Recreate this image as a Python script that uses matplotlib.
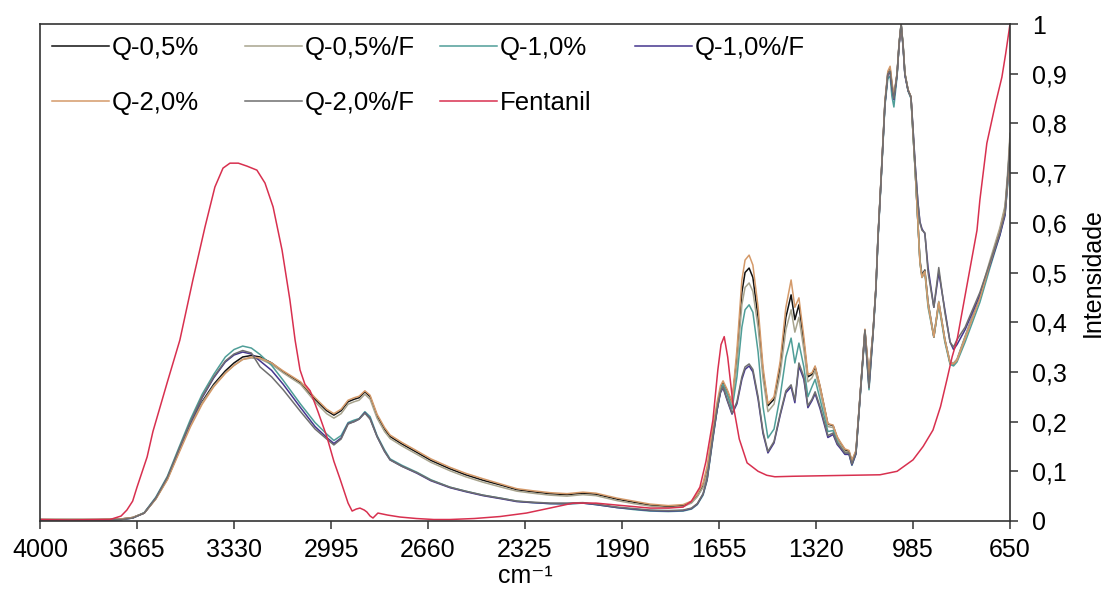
import matplotlib
matplotlib.use("Agg")
import matplotlib.pyplot as plt
from matplotlib.ticker import FixedLocator, FuncFormatter

plt.rcParams['font.family'] = ['Liberation Sans', 'DejaVu Sans']

# wavenumber grid shared by the six Q samples (cm-1)
wn_q = [4000, 3800, 3720, 3680, 3640, 3600, 3560, 3520, 3480, 3440,
        3400, 3360, 3330, 3300, 3270, 3240, 3200, 3160, 3100, 3050,
        3010, 2985, 2960, 2936, 2915, 2898, 2878, 2860, 2836, 2810,
        2791, 2750, 2698, 2650, 2584, 2530, 2470, 2400, 2353, 2300,
        2239, 2180, 2125, 2080, 2007, 1950, 1893, 1830, 1779, 1750,
        1730, 1710, 1696, 1676, 1662, 1650, 1641, 1627, 1610, 1593,
        1576, 1565, 1551, 1538, 1520, 1503, 1486, 1465, 1444, 1424,
        1406, 1393, 1379, 1362, 1348, 1334, 1323, 1306, 1279, 1261,
        1247, 1237, 1220, 1206, 1196, 1182, 1168, 1151, 1137, 1123,
        1113, 1106, 1096, 1082, 1072, 1064, 1058, 1051, 1040, 1033,
        1026, 1019, 1013, 1002, 992, 985, 978, 968, 961, 954,
        944, 933, 913, 896, 875, 857, 845, 833, 805, 754,
        719, 685, 667, 657, 650]

q05 = [0.003, 0.003, 0.004, 0.007, 0.016, 0.045, 0.085, 0.140, 0.195, 0.240,
       0.275, 0.302, 0.318, 0.330, 0.333, 0.330, 0.318, 0.300, 0.278, 0.245,
       0.222, 0.213, 0.222, 0.240, 0.245, 0.248, 0.260, 0.250, 0.212, 0.185,
       0.170, 0.155, 0.138, 0.122, 0.105, 0.093, 0.082, 0.071, 0.063, 0.059,
       0.055, 0.053, 0.056, 0.054, 0.044, 0.038, 0.032, 0.029, 0.031, 0.038,
       0.050, 0.070, 0.100, 0.180, 0.225, 0.265, 0.278, 0.262, 0.237, 0.330,
       0.460, 0.500, 0.509, 0.490, 0.410, 0.300, 0.232, 0.245, 0.310, 0.410,
       0.455, 0.405, 0.435, 0.360, 0.290, 0.295, 0.310, 0.270, 0.195, 0.192,
       0.168, 0.158, 0.143, 0.140, 0.120, 0.140, 0.250, 0.384, 0.290, 0.380,
       0.470, 0.570, 0.680, 0.840, 0.900, 0.910, 0.880, 0.852, 0.900, 0.960,
       1.000, 0.955, 0.900, 0.867, 0.853, 0.780, 0.712, 0.600, 0.525, 0.495,
       0.505, 0.440, 0.370, 0.440, 0.365, 0.318, 0.316, 0.324, 0.370, 0.450,
       0.520, 0.585, 0.630, 0.700, 0.770]

q05f = [0.003, 0.003, 0.004, 0.007, 0.016, 0.045, 0.085, 0.140, 0.193, 0.238,
        0.272, 0.298, 0.313, 0.325, 0.328, 0.326, 0.315, 0.298, 0.275, 0.240,
        0.216, 0.207, 0.216, 0.235, 0.240, 0.243, 0.255, 0.245, 0.207, 0.180,
        0.166, 0.151, 0.134, 0.118, 0.101, 0.089, 0.078, 0.067, 0.060, 0.056,
        0.052, 0.050, 0.053, 0.051, 0.041, 0.035, 0.030, 0.027, 0.029, 0.036,
        0.049, 0.068, 0.097, 0.176, 0.222, 0.262, 0.275, 0.258, 0.232, 0.315,
        0.435, 0.470, 0.479, 0.462, 0.390, 0.287, 0.220, 0.235, 0.295, 0.385,
        0.425, 0.380, 0.410, 0.345, 0.280, 0.288, 0.302, 0.262, 0.190, 0.188,
        0.165, 0.155, 0.140, 0.138, 0.118, 0.138, 0.248, 0.380, 0.285, 0.378,
        0.468, 0.568, 0.678, 0.838, 0.897, 0.907, 0.877, 0.850, 0.898, 0.958,
        0.998, 0.953, 0.898, 0.866, 0.852, 0.780, 0.710, 0.600, 0.520, 0.492,
        0.503, 0.440, 0.372, 0.442, 0.366, 0.320, 0.318, 0.326, 0.372, 0.455,
        0.525, 0.590, 0.635, 0.710, 0.780]

q10 = [0.002, 0.002, 0.003, 0.006, 0.017, 0.048, 0.090, 0.148, 0.205, 0.255,
       0.295, 0.330, 0.345, 0.352, 0.348, 0.335, 0.313, 0.283, 0.235, 0.198,
       0.175, 0.162, 0.172, 0.198, 0.203, 0.206, 0.220, 0.210, 0.172, 0.143,
       0.125, 0.112, 0.098, 0.083, 0.068, 0.060, 0.052, 0.045, 0.040, 0.037,
       0.035, 0.034, 0.036, 0.033, 0.027, 0.023, 0.020, 0.019, 0.020, 0.024,
       0.033, 0.052, 0.082, 0.165, 0.222, 0.262, 0.275, 0.255, 0.225, 0.290,
       0.390, 0.425, 0.435, 0.420, 0.340, 0.230, 0.167, 0.185, 0.250, 0.330,
       0.368, 0.318, 0.358, 0.310, 0.250, 0.270, 0.285, 0.245, 0.180, 0.182,
       0.160, 0.150, 0.135, 0.135, 0.112, 0.135, 0.245, 0.378, 0.264, 0.375,
       0.465, 0.565, 0.675, 0.835, 0.890, 0.895, 0.855, 0.833, 0.895, 0.960,
       1.000, 0.955, 0.900, 0.865, 0.850, 0.780, 0.710, 0.600, 0.520, 0.490,
       0.500, 0.430, 0.370, 0.435, 0.360, 0.315, 0.312, 0.320, 0.360, 0.440,
       0.510, 0.575, 0.620, 0.680, 0.750]

q10f = [0.002, 0.002, 0.003, 0.006, 0.016, 0.046, 0.087, 0.143, 0.198, 0.248,
        0.288, 0.320, 0.334, 0.340, 0.336, 0.322, 0.303, 0.275, 0.228, 0.190,
        0.168, 0.156, 0.167, 0.196, 0.200, 0.205, 0.218, 0.206, 0.170, 0.140,
        0.123, 0.110, 0.096, 0.081, 0.067, 0.059, 0.051, 0.044, 0.039, 0.037,
        0.035, 0.035, 0.036, 0.033, 0.027, 0.024, 0.021, 0.020, 0.021, 0.025,
        0.034, 0.054, 0.084, 0.168, 0.222, 0.258, 0.268, 0.243, 0.215, 0.236,
        0.285, 0.305, 0.312, 0.300, 0.245, 0.176, 0.137, 0.157, 0.212, 0.258,
        0.270, 0.238, 0.312, 0.285, 0.228, 0.242, 0.256, 0.226, 0.168, 0.174,
        0.154, 0.147, 0.134, 0.134, 0.113, 0.135, 0.248, 0.382, 0.270, 0.378,
        0.468, 0.568, 0.678, 0.838, 0.898, 0.903, 0.872, 0.848, 0.898, 0.958,
        0.998, 0.952, 0.897, 0.866, 0.853, 0.790, 0.722, 0.642, 0.602, 0.588,
        0.578, 0.510, 0.430, 0.500, 0.425, 0.360, 0.345, 0.355, 0.385, 0.455,
        0.515, 0.575, 0.615, 0.690, 0.750]

q20 = [0.003, 0.003, 0.004, 0.007, 0.016, 0.044, 0.083, 0.137, 0.190, 0.235,
       0.270, 0.297, 0.313, 0.325, 0.330, 0.328, 0.318, 0.302, 0.280, 0.248,
       0.225, 0.216, 0.225, 0.243, 0.248, 0.251, 0.262, 0.253, 0.215, 0.188,
       0.173, 0.158, 0.141, 0.125, 0.108, 0.096, 0.085, 0.073, 0.065, 0.061,
       0.057, 0.055, 0.058, 0.056, 0.046, 0.040, 0.034, 0.031, 0.033, 0.040,
       0.054, 0.077, 0.110, 0.190, 0.238, 0.272, 0.282, 0.265, 0.240, 0.345,
       0.485, 0.525, 0.535, 0.515, 0.430, 0.310, 0.236, 0.250, 0.320, 0.430,
       0.485, 0.430, 0.449, 0.370, 0.295, 0.298, 0.312, 0.272, 0.196, 0.193,
       0.170, 0.160, 0.145, 0.142, 0.122, 0.142, 0.252, 0.386, 0.292, 0.382,
       0.472, 0.572, 0.682, 0.845, 0.905, 0.915, 0.885, 0.856, 0.902, 0.962,
       1.000, 0.957, 0.902, 0.868, 0.854, 0.782, 0.713, 0.600, 0.520, 0.490,
       0.502, 0.435, 0.370, 0.440, 0.364, 0.318, 0.316, 0.323, 0.367, 0.448,
       0.518, 0.582, 0.625, 0.690, 0.760]

q20f = [0.002, 0.002, 0.003, 0.006, 0.016, 0.046, 0.088, 0.145, 0.200, 0.250,
        0.290, 0.322, 0.336, 0.343, 0.338, 0.310, 0.290, 0.264, 0.220, 0.185,
        0.165, 0.153, 0.165, 0.195, 0.200, 0.205, 0.217, 0.205, 0.170, 0.140,
        0.123, 0.110, 0.097, 0.082, 0.068, 0.060, 0.052, 0.045, 0.040, 0.038,
        0.036, 0.036, 0.037, 0.034, 0.028, 0.025, 0.022, 0.021, 0.022, 0.026,
        0.035, 0.055, 0.085, 0.170, 0.225, 0.260, 0.270, 0.245, 0.217, 0.240,
        0.290, 0.310, 0.316, 0.305, 0.250, 0.180, 0.140, 0.160, 0.215, 0.262,
        0.274, 0.243, 0.318, 0.290, 0.232, 0.245, 0.260, 0.230, 0.172, 0.177,
        0.157, 0.150, 0.137, 0.137, 0.115, 0.137, 0.250, 0.384, 0.268, 0.380,
        0.470, 0.570, 0.680, 0.840, 0.900, 0.905, 0.875, 0.850, 0.900, 0.960,
        1.000, 0.955, 0.900, 0.867, 0.853, 0.790, 0.720, 0.640, 0.600, 0.585,
        0.580, 0.500, 0.430, 0.510, 0.420, 0.360, 0.350, 0.365, 0.390, 0.460,
        0.520, 0.580, 0.620, 0.700, 0.760]

# pure fentanyl reference spectrum
wn_f = [4000, 3900, 3800, 3758, 3720, 3700, 3680, 3665, 3630, 3610,
        3560, 3517, 3472, 3430, 3396, 3368, 3344, 3315, 3285, 3251,
        3223, 3195, 3164, 3137, 3119, 3102, 3085, 3067, 3040, 3009,
        2985, 2964, 2936, 2922, 2908, 2895, 2880, 2871, 2860, 2850,
        2833, 2800, 2757, 2700, 2640, 2584, 2500, 2411, 2320, 2239,
        2159, 2080, 2007, 1950, 1893, 1830, 1779, 1750, 1721, 1700,
        1676, 1659, 1648, 1637, 1625, 1607, 1585, 1558, 1520, 1490,
        1462, 1400, 1300, 1200, 1099, 1040, 985, 950, 916, 890,
        868, 850, 833, 800, 764, 754, 730, 700, 678, 665,
        650]

fent = [0.003, 0.002, 0.003, 0.003, 0.010, 0.022, 0.040, 0.068, 0.129, 0.180,
        0.280, 0.364, 0.485, 0.592, 0.672, 0.710, 0.720, 0.720, 0.714, 0.706,
        0.680, 0.632, 0.545, 0.445, 0.364, 0.304, 0.275, 0.262, 0.220, 0.169,
        0.120, 0.085, 0.036, 0.020, 0.024, 0.026, 0.022, 0.018, 0.010, 0.006,
        0.016, 0.012, 0.008, 0.005, 0.003, 0.003, 0.005, 0.009, 0.016, 0.026,
        0.036, 0.036, 0.032, 0.029, 0.026, 0.026, 0.028, 0.040, 0.068, 0.120,
        0.203, 0.304, 0.355, 0.371, 0.330, 0.237, 0.165, 0.117, 0.100, 0.092,
        0.089, 0.090, 0.091, 0.092, 0.093, 0.100, 0.123, 0.150, 0.183, 0.230,
        0.284, 0.330, 0.364, 0.470, 0.585, 0.646, 0.760, 0.840, 0.893, 0.940,
        1.000]

labels = ["Q-0,5%", "Q-0,5%/F", "Q-1,0%", "Q-1,0%/F", "Q-2,0%", "Q-2,0%/F", "Fentanil"]
colors = ["#111111", "#a8a48e", "#4f9e98", "#45368e", "#d49a6a", "#6f6f6f", "#d8304f"]
series = [q05, q05f, q10, q10f, q20, q20f]

xticks = [4000, 3665, 3330, 2995, 2660, 2325, 1990, 1655, 1320, 985, 650]
yticks = [0, 0.1, 0.2, 0.3, 0.4, 0.5, 0.6, 0.7, 0.8, 0.9, 1.0]

fig = plt.figure(figsize=(11.06, 5.90), dpi=100)
ax = fig.add_axes([40 / 1106, 1 - 521 / 590, 970 / 1106, 497 / 590])

handles = []
for vals, lab, col in zip(series, labels[:6], colors[:6]):
    h, = ax.plot(wn_q, vals, color=col, lw=1.1, label=lab)
    handles.append(h)
h, = ax.plot(wn_f, fent, color=colors[6], lw=1.1, label=labels[6])
handles.append(h)

ax.set_xlim(4000, 650)
ax.set_ylim(0, 1)
ax.xaxis.set_major_locator(FixedLocator(xticks))
ax.yaxis.set_major_locator(FixedLocator(yticks))
ax.yaxis.set_major_formatter(FuncFormatter(lambda v, p: ("%g" % round(v, 1)).replace(".", ",")))
ax.yaxis.tick_right()
ax.yaxis.set_label_position("right")

for s in ax.spines.values():
    s.set_color("#333333")
    s.set_linewidth(1.2)

ax.tick_params(axis="x", direction="out", length=6, width=1.1, color="#333333",
               labelsize=18, pad=6)
ax.tick_params(axis="y", direction="out", length=6, width=1.1, color="#333333",
               labelsize=18, pad=10)

ax.set_xlabel("cm⁻¹", fontsize=18, labelpad=2)
ax.set_ylabel("Intensidade", fontsize=18, labelpad=10)

# legend laid out in four equal-width columns
col_x = [12 / 970, 205 / 970, 400 / 970, 595 / 970]
cols = [[0, 4], [1, 5], [2, 6], [3]]
legs = []
for cx, idx in zip(col_x, cols):
    leg = ax.legend([handles[i] for i in idx], [labels[i] for i in idx],
                    loc="upper left", bbox_to_anchor=(cx, 0.975), frameon=False,
                    fontsize=18.5, handlelength=2.2, handletextpad=0.12,
                    labelspacing=1.2, borderpad=0, borderaxespad=0)
    legs.append(leg)
for leg in legs[:-1]:
    ax.add_artist(leg)

fig.savefig("out.png", dpi=100)
